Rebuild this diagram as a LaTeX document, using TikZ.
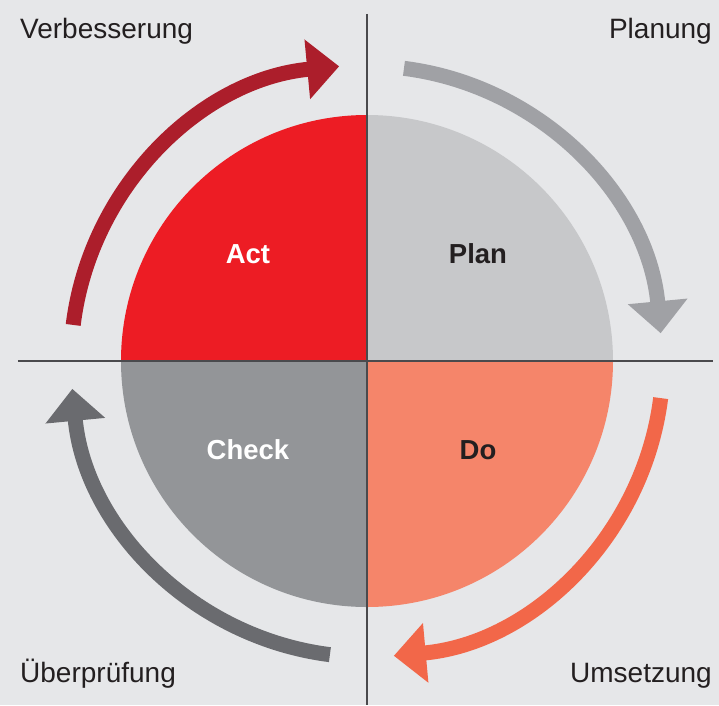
\documentclass[tikz,border=0pt]{standalone}
\usepackage{fontspec}
\setmainfont{Liberation Sans}
\usetikzlibrary{arrows.meta}
\definecolor{bg}{HTML}{E6E7E9}
\definecolor{actred}{HTML}{ED1C24}
\definecolor{plangray}{HTML}{C7C8CA}
\definecolor{dosalmon}{HTML}{F5856A}
\definecolor{checkgray}{HTML}{939598}
\definecolor{arrred}{HTML}{AC1E2B}
\definecolor{arrgray}{HTML}{A0A1A5}
\definecolor{arrorange}{HTML}{F26749}
\definecolor{arrdark}{HTML}{6A6B6F}
\definecolor{txt}{HTML}{231F20}
\definecolor{axis}{HTML}{4A4A4D}
\tikzset{
  cyc/.style={line width=15pt, -{Triangle[width=58pt,length=32pt]}},
  corner/.style={font=\fontsize{28}{32}\selectfont, text=txt, inner sep=0pt},
  quad/.style={font=\fontsize{27.5}{32}\selectfont\bfseries, inner sep=0pt, anchor=base},
  axisline/.style={draw=axis, line width=2.5pt}
}
\begin{document}
\begin{tikzpicture}[x=1pt,y=1pt]
\fill[bg] (-367,-344) rectangle (352,361);
\useasboundingbox (-367,-344) rectangle (352,361);
% quadrants
\fill[actred] (0,0) -- (180:246) arc[start angle=180,end angle=90,radius=246] -- cycle;
\fill[plangray] (0,0) -- (90:246) arc[start angle=90,end angle=0,radius=246] -- cycle;
\fill[dosalmon] (0,0) -- (0:246) arc[start angle=0,end angle=-90,radius=246] -- cycle;
\fill[checkgray] (0,0) -- (-90:246) arc[start angle=-90,end angle=-180,radius=246] -- cycle;
% axes
\coordinate (hl) at (-349,0);
\coordinate (hr) at (346,0);
\coordinate (vt) at (0,347);
\coordinate (vb) at (0,-344);
\draw[axisline] (hl) -- (hr);
\draw[axisline] (vt) -- (vb);
% cycle arrows
\draw[cyc, draw=arrred] (173:296) arc[start angle=173,end angle=95.4,radius=296];
\draw[cyc, draw=arrgray] (82.8:295) arc[start angle=82.8,end angle=5.4,radius=295];
\draw[cyc, draw=arrorange] (-7.2:296) arc[start angle=-7.2,end angle=-84.8,radius=296];
\draw[cyc, draw=arrdark] (-97.2:296) arc[start angle=-97.2,end angle=-174.6,radius=296];
% quadrant labels
\node[quad, text=white] (act) at (-119,98) {Act};
\node[quad, text=txt] (plan) at (111,98) {Plan};
\node[quad, text=white] (check) at (-119,-98) {Check};
\node[quad, text=txt] (do) at (111,-98) {Do};
% corner labels
\node[corner, anchor=base west] (verb) at (-347,322) {Verbesserung};
\node[corner, anchor=base east] (planung) at (345,322) {Planung};
\node[corner, anchor=base west] (ueber) at (-347,-321) {Überprüfung};
\node[corner, anchor=base east] (umsetz) at (345,-321) {Umsetzung};
\end{tikzpicture}
\end{document}
